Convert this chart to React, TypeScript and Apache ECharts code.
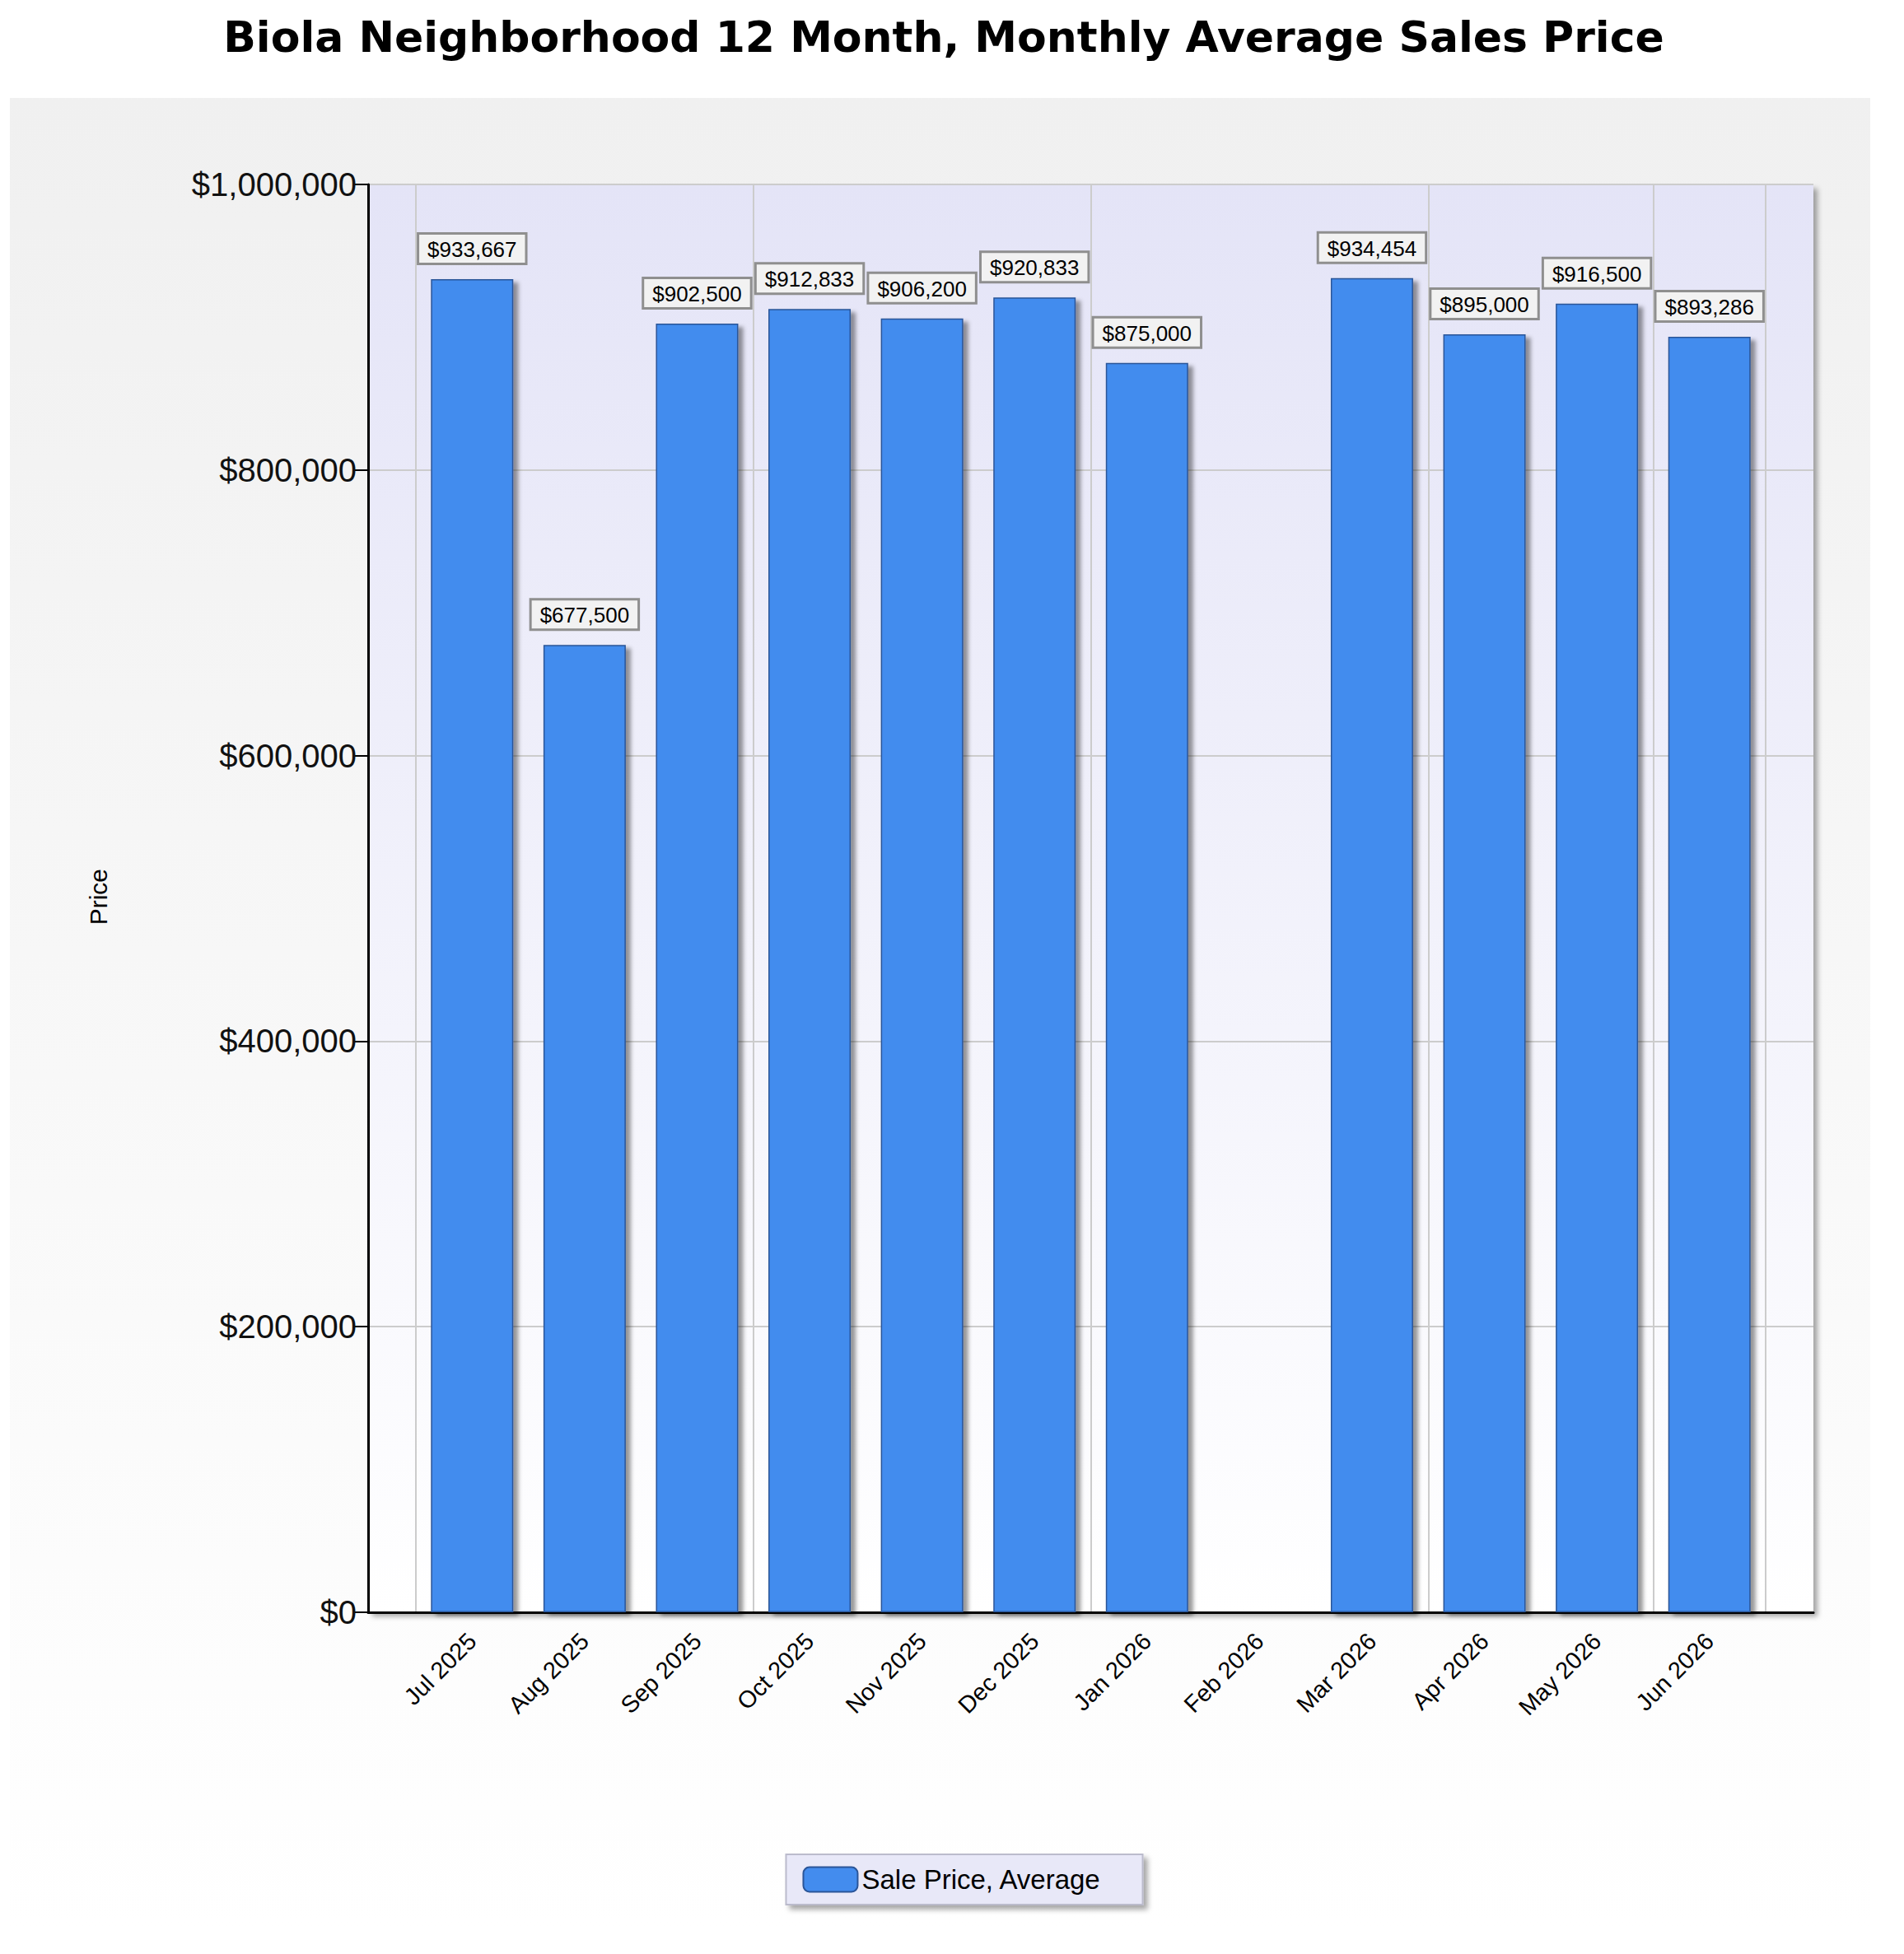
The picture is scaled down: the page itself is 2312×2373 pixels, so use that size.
import React, { useEffect, useRef } from "react";
import * as echarts from "echarts";

const months = [
  "Jul 2025", "Aug 2025", "Sep 2025", "Oct 2025", "Nov 2025", "Dec 2025",
  "Jan 2026", "Feb 2026", "Mar 2026", "Apr 2026", "May 2026", "Jun 2026",
];
const avgPrice: (number | null)[] = [
  933667, 677500, 902500, 912833, 906200, 920833,
  875000, null, 934454, 895000, 916500, 893286,
];
const yTicks = [0, 200000, 400000, 600000, 800000, 1000000];

const money = (v: number) => "$" + v.toLocaleString("en-US");

const App: React.FC = () => {
  const chartRef = useRef<HTMLDivElement>(null);

  useEffect(() => {
    document.body.style.margin = "0";
    if (!chartRef.current) return;
    const chart = echarts.init(chartRef.current, undefined, { renderer: "svg" });

    const plot = { left: 447, top: 224, width: 1755, height: 1734 };
    const inset = 58;

    const option: echarts.EChartsOption = {
      animation: false,
      backgroundColor: "#ffffff",
      title: {
        text: "Biola Neighborhood 12 Month, Monthly Average Sales Price",
        left: 1141,
        textAlign: "center",
        top: 14,
        textStyle: { fontFamily: "DejaVu Sans", fontWeight: "bold", fontSize: 52, color: "#000" },
      },
      graphic: [
        {
          type: "rect",
          z: -10,
          shape: { x: 12, y: 119, width: 2259, height: 2223 },
          style: {
            fill: new echarts.graphic.LinearGradient(0, 0, 0, 1, [
              { offset: 0, color: "#f0f0f0" },
              { offset: 1, color: "#ffffff" },
            ]),
          },
        },
        {
          type: "rect",
          z: -9,
          shape: { x: plot.left, y: plot.top, width: plot.width, height: plot.height },
          style: {
            fill: new echarts.graphic.LinearGradient(0, 0, 0, 1, [
              { offset: 0, color: "#e4e4f7" },
              { offset: 1, color: "#ffffff" },
            ]),
            shadowColor: "rgba(0,0,0,0.35)",
            shadowBlur: 6,
            shadowOffsetX: 5,
            shadowOffsetY: 5,
          },
        },
        {
          type: "text",
          left: 104,
          top: 1055,
          rotation: Math.PI / 2,
          style: { text: "Price", font: "30px 'Liberation Sans'", fill: "#000" },
        },
      ],
      legend: {
        bottom: 60,
        left: "center",
        data: ["Sale Price, Average"],
        backgroundColor: "#e8e8f8",
        borderColor: "#bbbbcc",
        borderWidth: 2,
        padding: [14, 50, 14, 20],
        itemWidth: 66,
        itemHeight: 30,
        itemGap: 10,
        shadowColor: "rgba(0,0,0,0.35)",
        shadowBlur: 6,
        shadowOffsetX: 5,
        shadowOffsetY: 5,
        textStyle: { fontFamily: "Liberation Sans", fontSize: 33, color: "#000" },
      },
      grid: [
        { ...plot, containLabel: false },
        { left: plot.left + inset, top: plot.top, width: plot.width - 2 * inset, height: plot.height },
      ],
      xAxis: [
        {
          gridIndex: 0,
          type: "value",
          min: 0,
          max: 1,
          show: true,
          axisLine: { show: true, onZero: false, lineStyle: { color: "#000", width: 3 } },
          axisTick: { show: false },
          axisLabel: { show: false },
          splitLine: { show: false },
        },
        {
          gridIndex: 1,
          type: "category",
          data: months,
          axisLine: { show: false },
          axisTick: { show: false, alignWithLabel: true },
          splitLine: { show: true, interval: 2, lineStyle: { color: "#cccccc", width: 2 } },
          axisLabel: {
            interval: 0,
            rotate: 45,
            margin: 30,
            fontFamily: "Liberation Sans",
            fontSize: 29,
            color: "#000",
          },
        },
      ],
      yAxis: [
        {
          gridIndex: 0,
          type: "value",
          min: 0,
          max: 1000000,
          interval: 200000,
          axisLine: { show: true, lineStyle: { color: "#000", width: 3 } },
          axisTick: { show: true, length: 18, lineStyle: { color: "#000", width: 2 } },
          axisLabel: {
            margin: 14,
            fontFamily: "Liberation Sans",
            fontSize: 40,
            color: "#111",
            formatter: (v: number) => (yTicks.includes(v) ? money(v) : ""),
          },
          splitLine: { show: true, lineStyle: { color: "#cccccc", width: 2 } },
        },
        {
          gridIndex: 1,
          type: "value",
          min: 0,
          max: 1000000,
          show: false,
          splitLine: { show: false },
        },
      ],
      series: [
        {
          name: "Sale Price, Average",
          type: "bar",
          xAxisIndex: 1,
          yAxisIndex: 1,
          data: avgPrice.map((v) => (v === null ? "-" : v)),
          barWidth: 100,
          itemStyle: {
            color: "#438cee",
            borderColor: "#2a5598",
            borderWidth: 1.5,
            shadowColor: "rgba(0,0,0,0.4)",
            shadowBlur: 5,
            shadowOffsetX: 6,
            shadowOffsetY: 4,
          },
          label: {
            show: true,
            position: "top",
            distance: 20,
            formatter: (p: any) => money(p.value),
            fontFamily: "Liberation Sans",
            fontSize: 26,
            color: "#000",
            backgroundColor: "#f2f2f2",
            borderColor: "#8f8f8f",
            borderWidth: 3,
            padding: [5, 10, 3, 10],
          },
        },
      ],
    };

    chart.setOption(option);
    return () => chart.dispose();
  }, []);

  return <div ref={chartRef} style={{ width: "2312px", height: "2373px" }} />;
};

export default App;
